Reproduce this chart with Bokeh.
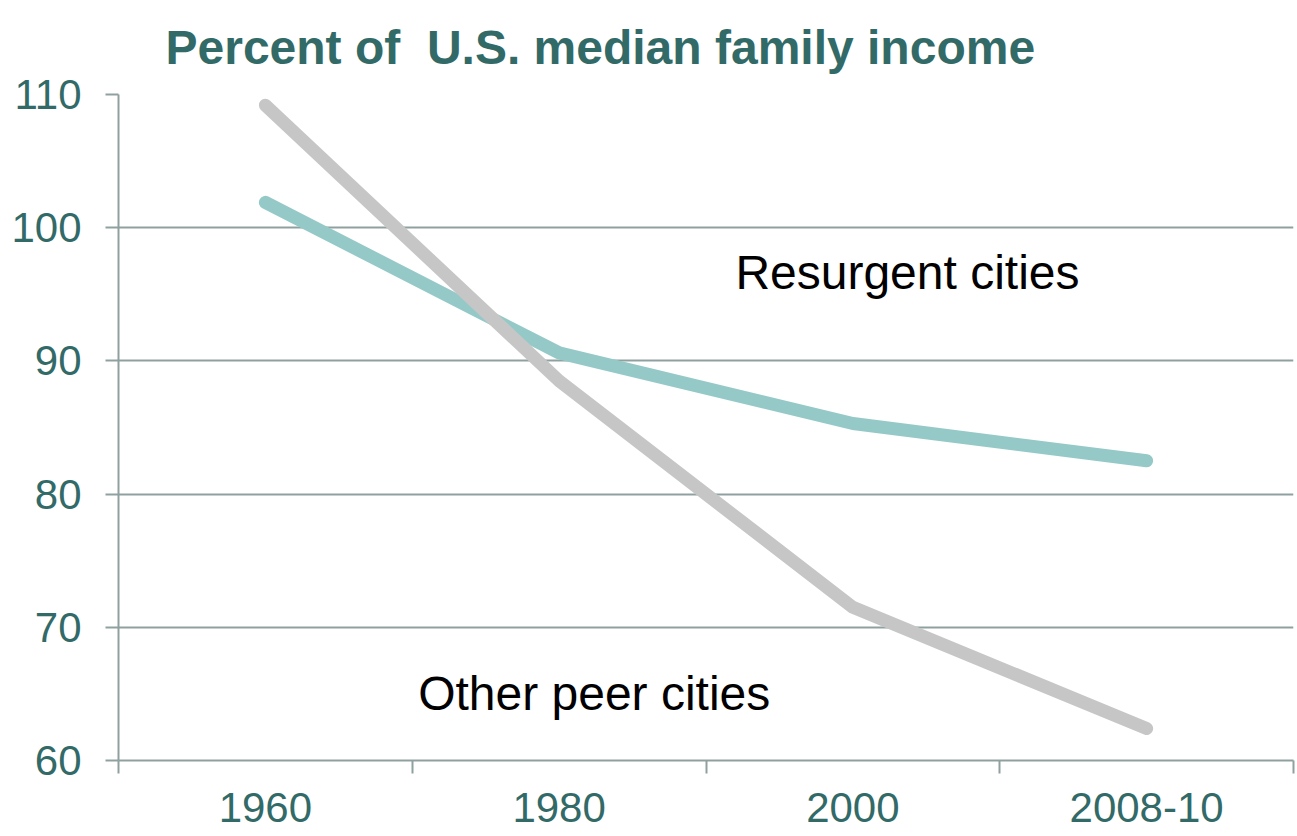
from bokeh.plotting import figure
from bokeh.models import Range1d, FixedTicker, Label
from bokeh.embed import file_html
from bokeh.resources import INLINE

# ---- data ----
categories = ["1960", "1980", "2000", "2008-10"]
resurgent = [101.9, 90.6, 85.3, 82.5]
other_peer = [109.2, 88.5, 71.5, 62.4]
y_ticks = [60, 70, 80, 90, 100, 110]
title_text = "Percent of \u00a0U.S. median family income"

TEAL_DARK = "#326a68"
GRID = "#8fa0a0"
LINE_TEAL = "#95c9c8"
LINE_GRAY = "#c6c6c6"
FONT = "Liberation Sans"

n = len(categories)
x_pos = [i + 0.5 for i in range(n)]

p = figure(width=1295, height=834, output_backend="svg", toolbar_location=None,
           x_range=Range1d(0, n), y_range=Range1d(min(y_ticks), max(y_ticks)),
           min_border_left=118, min_border_right=2, min_border_top=94, min_border_bottom=74)
p.outline_line_color = None
p.background_fill_color = "white"
p.border_fill_color = "white"

# title
p.title.text = title_text
p.title.align = "left"
p.title.offset = 47
p.title.vertical_align = "top"
p.title.text_font = FONT
p.title.text_font_style = "bold"
p.title.text_font_size = "48px"
p.title.text_line_height = 1.0
p.title.text_color = TEAL_DARK
p.title.standoff = 38

# grid
p.xgrid.visible = False
p.ygrid.ticker = FixedTicker(ticks=y_ticks)
p.ygrid.grid_line_color = GRID
p.ygrid.grid_line_width = 2

# y axis
p.yaxis.ticker = FixedTicker(ticks=y_ticks)
p.yaxis.axis_line_color = GRID
p.yaxis.axis_line_width = 2
p.yaxis.major_tick_line_color = GRID
p.yaxis.major_tick_line_width = 2
p.yaxis.major_tick_out = 13
p.yaxis.major_tick_in = 0
p.yaxis.minor_tick_line_color = None
p.yaxis.major_label_text_font = FONT
p.yaxis.major_label_text_font_size = "42px"
p.yaxis.major_label_text_color = TEAL_DARK
p.yaxis.major_label_standoff = 24

# x axis: labels at category centres, tick marks at category boundaries
p.xaxis.ticker = FixedTicker(ticks=x_pos, minor_ticks=list(range(n + 1)))
p.xaxis.major_label_overrides = {x: c for x, c in zip(x_pos, categories)}
p.xaxis.axis_line_color = GRID
p.xaxis.axis_line_width = 2
p.xaxis.major_tick_line_color = None
p.xaxis.major_tick_out = 13
p.xaxis.major_tick_in = 0
p.xaxis.minor_tick_line_color = GRID
p.xaxis.minor_tick_line_width = 2
p.xaxis.minor_tick_out = 13
p.xaxis.minor_tick_in = 0
p.xaxis.major_label_text_font = FONT
p.xaxis.major_label_text_font_size = "42px"
p.xaxis.major_label_text_color = TEAL_DARK
p.xaxis.major_label_standoff = 19

# lines
p.line(x_pos, resurgent, line_color=LINE_TEAL, line_width=13,
       line_cap="round", line_join="round")
p.line(x_pos, other_peer, line_color=LINE_GRAY, line_width=13,
       line_cap="round", line_join="round")

# line labels
p.add_layout(Label(x=2.1, y=96.6, text="Resurgent cities", text_font=FONT,
                   text_font_size="48px", text_color="black", text_baseline="middle"))
p.add_layout(Label(x=1.02, y=65.0, text="Other peer cities", text_font=FONT,
                   text_font_size="48px", text_color="black", text_baseline="middle"))

open("out.html", "w").write(file_html(p, INLINE))
